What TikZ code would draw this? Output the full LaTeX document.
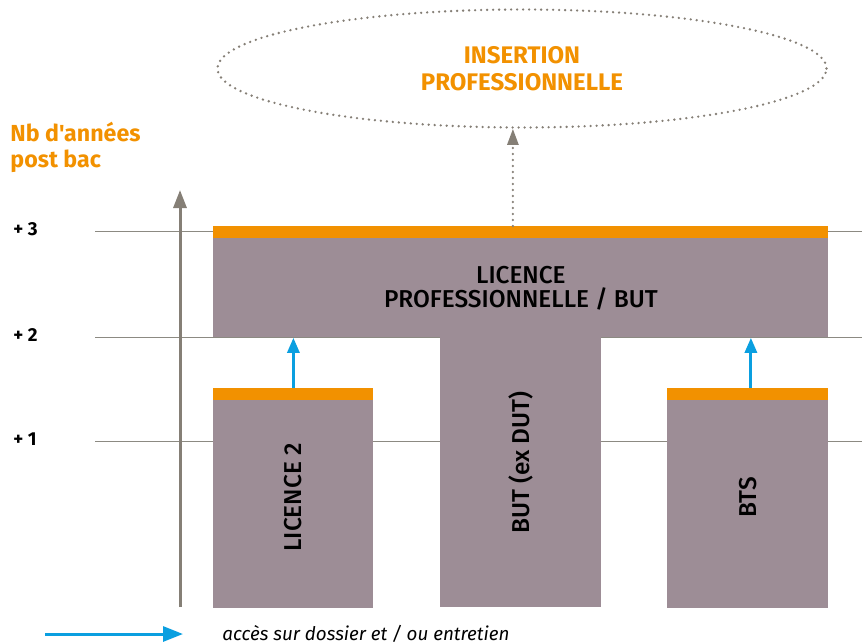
\documentclass[tikz,border=0pt]{standalone}
\usepackage{fontspec}
\setmainfont{Fira Sans}
\newfontfamily\moyen{Fira Sans Medium}
\newfontfamily\droit{Fira Sans}
\usepackage{xcolor}
\usetikzlibrary{shapes.geometric,arrows.meta}
\definecolor{orange}{HTML}{F29100}
\definecolor{mauve}{HTML}{9D8D96}
\definecolor{taupe}{HTML}{857F76}
\definecolor{lignegris}{HTML}{8C8A82}
\definecolor{bleu}{HTML}{0A9FE0}

\begin{document}
\begin{tikzpicture}[x=0.5pt,y=-0.5pt,
		bloc/.style={fill=mauve,inner sep=0pt,anchor=north west,font=\moyen\fontsize{12.2}{12.2}\selectfont,align=center},
		barre/.style={fill=orange,inner sep=0pt,anchor=north west,minimum height=6pt},
		vert/.style={rotate=90,inner sep=0pt,font=\moyen\fontsize{12.2}{14.5}\selectfont},
		niveau/.style={anchor=west,inner sep=0pt,font=\bfseries\fontsize{9.4}{11}\selectfont},
		grille/.style={draw=lignegris,line width=0.5pt},
		pointille/.style={draw=taupe,line width=1.3pt,line cap=round,dash pattern=on 0pt off 3pt},
		acces/.style={draw=bleu,line width=1.5pt,-{Triangle[length=7.5pt,width=6pt]}}]
	\useasboundingbox (0,0) rectangle (862,643);

	% niveaux post bac
	\node[anchor=west,inner sep=0pt,align=left,text=orange,font=\droit\bfseries\fontsize{11.6}{13}\selectfont] (titre) at (10,147) {Nb d'années\\post bac};
	\foreach \y/\n in {231/3,337/2,441/1}{
		\node[niveau] (plus\n) at (13,\y-2) {+ \n};
		\draw[grille] (95,\y) -- (862,\y);
	}
	\coordinate (axebas) at (180,607);
	\coordinate (axehaut) at (180,190);
	\draw[draw=taupe,line width=1.5pt,-{Triangle[length=9pt,width=6.5pt]}] (axebas) -- (axehaut);

	% formations
	\node[bloc,minimum width=307.5pt,minimum height=49.5pt] (lp) at (213,238) {LICENCE\\PROFESSIONNELLE / BUT};
	\node[barre,minimum width=307.5pt] (lpbarre) at (213,226) {};
	\node[bloc,minimum width=80.5pt,minimum height=135.5pt] (but) at (440,336) {};
	\node[bloc,minimum width=80pt,minimum height=104pt] (l2) at (213,400) {};
	\node[barre,minimum width=80pt] (l2barre) at (213,388) {};
	\node[bloc,minimum width=80.5pt,minimum height=104pt] (bts) at (667,400) {};
	\node[barre,minimum width=80.5pt] (btsbarre) at (667,388) {};
	\node[vert] (l2txt) at ([yshift=3.5pt]l2.center) {LICENCE 2};
	\node[vert] (buttxt) at ([yshift=4.5pt]but.center) {BUT (ex DUT)};
	\node[vert] (btstxt) at ([yshift=3.5pt]bts.center) {BTS};

	\draw[acces] (l2barre.north) -- (l2barre.north |- lp.south);
	\draw[acces] ([xshift=1.5pt]btsbarre.north) -- ([xshift=1.5pt]btsbarre.north |- lp.south);

	% debouche
	\node[ellipse,pointille,minimum width=304.5pt,minimum height=59pt,inner sep=0pt,
		text=orange,align=center,font=\bfseries\fontsize{12}{13.5}\selectfont] (insertion) at (522,68.5) {INSERTION\\PROFESSIONNELLE};
	\draw[pointille,-{Triangle[length=8pt,width=5.5pt,line cap=butt]}] ([xshift=-4pt]lpbarre.north) -- ([xshift=-4pt]lpbarre.north |- insertion.south);

	% legende
	\coordinate (legdebut) at (45,634);
	\coordinate (legfin) at (183,634);
	\draw[draw=bleu,line width=1.5pt,-{Triangle[length=10pt,width=7.5pt]}] (legdebut) -- (legfin);
	\node[anchor=west,inner sep=0pt,font=\itshape\fontsize{9.4}{11}\selectfont] (legende) at (222,634) {accès sur dossier et / ou entretien};
\end{tikzpicture}
\end{document}
